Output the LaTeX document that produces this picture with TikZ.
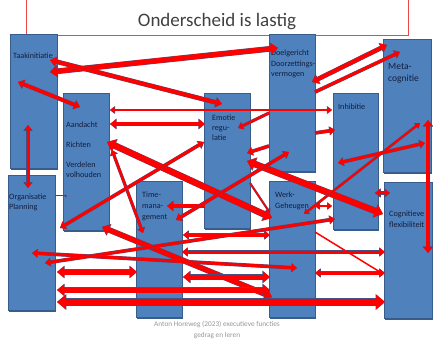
\documentclass[tikz,border=0pt]{standalone}
\usepackage{fontspec}
\setmainfont{Carlito}
\usetikzlibrary{arrows.meta,shadows}
\definecolor{boxfill}{RGB}{79,129,189}
\definecolor{boxline}{RGB}{56,93,138}
\definecolor{arrred}{RGB}{255,0,0}
\definecolor{arrline}{RGB}{70,80,130}
\definecolor{labeltext}{RGB}{20,30,60}
\definecolor{titlegray}{RGB}{64,64,64}
\definecolor{footgray}{RGB}{150,150,150}
\definecolor{bracketred}{RGB}{240,70,70}
\definecolor{darkred}{RGB}{150,40,60}

\begin{document}
\begin{tikzpicture}[x=1pt,y=-1pt,
        % 方框、文字和箭头的样式
        BoxNode/.style={rectangle, draw=boxline, fill=boxfill, line width=0.7pt, inner sep=0pt, anchor=north west,
            drop shadow={shadow xshift=0.6pt, shadow yshift=-1.8pt, fill=boxline, opacity=1}},
        TextNode/.style={anchor=base west, inner sep=0pt, align=left, text=labeltext, font=\fontsize{8.1}{10}\selectfont},
        BothArrow/.style={draw=arrred, line width=#1, preaction={draw=arrline, line width=#1+0.7pt},
            {Triangle[length=2.5pt 0.9,width=3pt 1.6]}-{Triangle[length=2.5pt 0.9,width=3pt 1.6]}},
        BothArrow/.default=3pt,
        OneArrow/.style={draw=arrred, line width=#1, preaction={draw=arrline, line width=#1+0.7pt},
            -{Triangle[length=2.5pt 0.9,width=3pt 1.6]}},
        OneArrow/.default=3pt]

        \useasboundingbox (0,0) rectangle (433,347);

        % 标题和红色框线
        \draw[bracketred, line width=0.8pt] (26,0) -- (26,35) -- (408,35) -- (408,0);
        \node[anchor=base, font=\fontsize{19}{22}\selectfont, text=titlegray] (title) at (217,27) {Onderscheid is lastig};

        % 方框: 名称/x/y/宽/高
        \foreach \n/\x/\y/\w/\h in {taak/10/34/47/134, org/8/175/47/135, aand/63/93/46/137,
                time/136/181/46/136, emo/204/93/46/135, doel/269/34/46/137, werk/269/181/46/136,
                inhib/333/93/45/136, meta/383/39/48/133, cogn/384/182/48/136}
        \node[BoxNode, minimum width=\w pt, minimum height=\h pt] (\n) at (\x,\y) {};

        % 方框里的文字 (基线 = 最后一行)
        \node[TextNode] (taaktxt) at (13,59) {Taakinitiatie};
        \node[TextNode] (orgtxt) at (9,210) {Organisatie\\Planning};
        \node[TextNode] (aandtxt) at (66,178) {Aandacht\\[10pt]Richten\\[10pt]Verdelen\\volhouden};
        \node[TextNode, font=\fontsize{8.1}{10.5}\selectfont] (timetxt) at (142,219) {Time-\\mana-\\gement};
        \node[TextNode] (emotxt) at (212,141) {Emotie\\regu-\\latie};
        \node[TextNode, font=\fontsize{8.1}{10.5}\selectfont] (doeltxt) at (271,77) {Doelgericht\\Doorzettings-\\vermogen};
        \node[TextNode] (werktxt) at (275,208) {Werk-\\Geheugen};
        \node[TextNode] (inhibtxt) at (338,110) {Inhibitie};
        \node[TextNode, font=\fontsize{9.5}{12.5}\selectfont] (metatxt) at (388,82) {Meta-\\cognitie};
        \node[TextNode, font=\fontsize{8.2}{11}\selectfont] (cogntxt) at (389,227) {Cognitieve\\flexibiliteit};

        % 从 Taakinitiatie 出发
        \draw[BothArrow=5pt] ([shift={(40,38)}]taak.north west) -- ([shift={(9,14)}]doel.north west);
        \draw[BothArrow=4pt] ([shift={(40,26)}]taak.north west) -- ([shift={(18,11)}]emo.north west);
        \draw[BothArrow=3.5pt] ([shift={(8,48)}]taak.north west) -- ([shift={(17,14)}]aand.north west);
        \draw[BothArrow=3pt] ([shift={(18,91)}]taak.north west) -- ([shift={(20,13)}]org.north west);

        % 从 Aandacht 出发
        \draw[BothArrow=2.2pt] ([shift={(47,17)}]aand.north west) -- ([shift={(-1,17)}]inhib.north west);
        \draw[BothArrow=4pt] ([shift={(47,31)}]aand.north west) -- ([shift={(1,31)}]emo.north west);
        \draw[BothArrow=6pt] ([shift={(44,49)}]aand.north west) -- ([shift={(3,37)}]werk.north west);
        \draw[BothArrow=2.5pt] ([shift={(49,57)}]aand.north west) -- ([shift={(7,52)}]time.north west);
        \draw[BothArrow=5pt] ([shift={(39,134)}]aand.north west) -- ([shift={(3,116)}]werk.north west);

        % Emotie regulatie
        \draw[OneArrow=2.5pt] ([shift={(0,79)}]doel.north west) -- ([shift={(34,35)}]emo.north west);
        \draw[OneArrow=3pt] ([shift={(0,112)}]doel.north west) -- ([shift={(43,60)}]emo.north west);
        \draw[BothArrow=6pt] ([shift={(43,68)}]emo.north west) -- ([shift={(-1,32)}]cogn.north west);
        \draw[BothArrow=3pt] ([shift={(52,53)}]org.north west) -- ([shift={(0,49)}]emo.north west);
        \draw[OneArrow=1.5pt] ([shift={(46,90)}]emo.north west) -- ([shift={(1,32)}]werk.north west);
        \draw[OneArrow=4pt] ([shift={(1,113)}]emo.north west) -- ([shift={(31,25)}]time.north west);
        \draw[BothArrow=3pt] ([shift={(40,39)}]time.north west) -- ([shift={(20,118)}]doel.north west);

        % Doelgericht, Metacognitie, Inhibitie
        \draw[OneArrow=3pt] ([shift={(46,99)}]doel.north west) -- ([shift={(2,37)}]inhib.north west);
        \draw[BothArrow=4pt] ([shift={(43,48)}]doel.north west) -- ([shift={(4,6)}]meta.north west);
        \draw[OneArrow=3pt] ([shift={(46,58)}]doel.north west) -- ([shift={(17,13)}]meta.north west);
        \draw[BothArrow=2pt] ([shift={(35,33)}]werk.north west) -- ([shift={(37,84)}]meta.north west);
        \draw[BothArrow=3pt] ([shift={(5,70)}]inhib.north west) -- ([shift={(42,104)}]meta.north west);
        \draw[BothArrow=4pt] ([shift={(45,81)}]meta.north west) -- ([shift={(44,71)}]cogn.north west);
        \draw[BothArrow=3pt] ([shift={(42,100)}]inhib.north west) -- ([shift={(6,11)}]cogn.north west);
        \draw[BothArrow=2pt] ([shift={(46,25)}]werk.north west) -- ([shift={(-1,113)}]inhib.north west);

        % 下面的横向箭头
        \draw[BothArrow=3pt] ([shift={(37,88)}]org.north west) -- ([shift={(2,126)}]inhib.north west);
        \draw[BothArrow=3pt] ([shift={(24,78)}]org.north west) -- ([shift={(28,87)}]werk.north west);
        \draw[BothArrow=3pt] ([shift={(47,54)}]time.north west) -- ([shift={(1,54)}]werk.north west);
        \draw[BothArrow=3pt] ([shift={(46,71)}]time.north west) -- ([shift={(1,70)}]cogn.north west);
        \draw[BothArrow=5pt] ([shift={(47,96)}]time.north west) -- ([shift={(1,96)}]werk.north west);
        \draw[BothArrow=5pt] ([shift={(49,115)}]org.north west) -- ([shift={(1,109)}]werk.north west);
        \draw[BothArrow=7pt] ([shift={(49,127)}]org.north west) -- ([shift={(1,120)}]cogn.north west);
        \draw[BothArrow=5pt] ([shift={(49,97)}]org.north west) -- ([shift={(1,91)}]time.north west);
        \draw[BothArrow=3pt] ([shift={(46,92)}]werk.north west) -- ([shift={(1,91)}]cogn.north west);
        \draw[arrred, line width=1.5pt] ([shift={(46,51)}]werk.north west) -- ([shift={(-4,90)}]cogn.north west);
        \draw[darkred, line width=1pt, -{Triangle[length=2pt,width=3pt]}] ([shift={(47,21)}]org.north west) -- ([shift={(4,103)}]aand.north west);

        % 出处
        \node[anchor=base, font=\fontsize{7.3}{9}\selectfont, text=footgray] (foot1) at (217,326) {Anton Horeweg (2023) executieve functies};
        \node[anchor=base, font=\fontsize{7.3}{9}\selectfont, text=footgray] (foot2) at (217,337) {gedrag en leren};
    \end{tikzpicture}
\end{document}
